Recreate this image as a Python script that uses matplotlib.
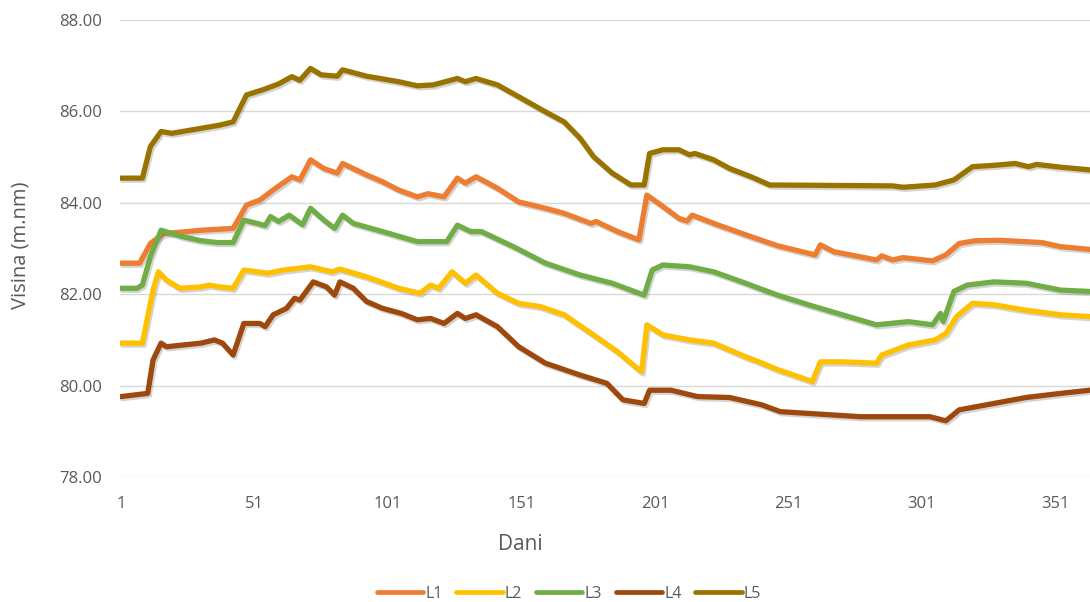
import matplotlib
matplotlib.use('Agg')
import matplotlib.pyplot as plt
import matplotlib.patheffects as pe

plt.rcParams['font.family'] = ['Open Sans', 'DejaVu Sans']

# ---- data (day, level) ----
l1_days = [1, 8, 12, 17, 24, 31, 43, 48, 53, 58, 65, 68, 72, 77, 82, 84, 93, 99, 105, 112,
           116, 122, 127, 130, 134, 142, 150, 160, 167, 177, 179, 187, 195, 198, 204, 210, 213, 215, 223, 235,
           247, 261, 263, 268, 284, 286, 290, 294, 305, 310, 315, 321, 330, 346, 353, 364]
l1_vals = [82.68, 82.68, 83.11, 83.33, 83.36, 83.40, 83.44, 83.95, 84.06, 84.28,
           84.57, 84.50, 84.94, 84.75, 84.65, 84.86, 84.61, 84.46, 84.28, 84.13,
           84.20, 84.13, 84.54, 84.43, 84.57, 84.32, 84.02, 83.88, 83.77, 83.55,
           83.59, 83.37, 83.19, 84.17, 83.92, 83.66, 83.60, 83.73, 83.55, 83.30,
           83.06, 82.86, 83.08, 82.93, 82.75, 82.84, 82.75, 82.80, 82.73, 82.86,
           83.11, 83.17, 83.18, 83.13, 83.04, 82.98]

l2_days = [1, 9, 13, 15, 18, 23, 31, 34, 38, 43, 47, 56, 62, 72, 80, 83, 93, 105, 113, 117,
           120, 125, 130, 134, 142, 150, 158, 167, 177, 187, 196, 198, 204, 214, 223, 235, 240, 247, 260, 263,
           271, 284, 286, 296, 306, 310, 314, 320, 328, 340, 353, 364]
l2_vals = [80.93, 80.93, 82.09, 82.49, 82.31, 82.13, 82.16, 82.20, 82.16, 82.13,
           82.53, 82.46, 82.53, 82.60, 82.49, 82.55, 82.38, 82.13, 82.02, 82.20,
           82.13, 82.49, 82.24, 82.42, 82.02, 81.80, 81.73, 81.55, 81.15, 80.74,
           80.30, 81.33, 81.11, 81.00, 80.93, 80.63, 80.52, 80.35, 80.09, 80.52,
           80.52, 80.49, 80.67, 80.89, 81.00, 81.14, 81.51, 81.80, 81.77, 81.65,
           81.55, 81.51]

l3_days = [1, 7, 9, 12, 16, 24, 31, 37, 43, 47, 52, 55, 57, 60, 64, 69, 72, 77, 81, 84,
           88, 99, 112, 123, 127, 132, 136, 148, 160, 173, 185, 197, 200, 204, 214, 223, 235, 240, 247, 259,
           284, 296, 305, 308, 309, 313, 318, 328, 340, 353, 364]
l3_vals = [82.13, 82.13, 82.20, 82.82, 83.40, 83.26, 83.17, 83.13, 83.13, 83.62,
           83.55, 83.50, 83.70, 83.59, 83.73, 83.52, 83.88, 83.62, 83.44, 83.73,
           83.55, 83.37, 83.15, 83.15, 83.51, 83.37, 83.37, 83.04, 82.68, 82.42,
           82.24, 81.98, 82.53, 82.64, 82.60, 82.49, 82.24, 82.13, 81.98, 81.76,
           81.33, 81.40, 81.33, 81.58, 81.40, 82.06, 82.20, 82.27, 82.24, 82.09,
           82.06]

l4_days = [1, 11, 13, 16, 18, 31, 36, 39, 43, 47, 53, 55, 58, 63, 66, 68, 73, 78, 81, 83,
           88, 93, 99, 106, 112, 117, 122, 127, 130, 134, 142, 150, 160, 173, 183, 189, 197, 199, 207, 217,
           229, 241, 248, 259, 278, 297, 304, 310, 315, 328, 340, 353, 364]
l4_vals = [79.76, 79.83, 80.56, 80.93, 80.85, 80.93, 81.00, 80.93, 80.67, 81.36,
           81.36, 81.29, 81.55, 81.69, 81.91, 81.87, 82.27, 82.16, 81.98, 82.27,
           82.13, 81.84, 81.69, 81.58, 81.44, 81.47, 81.36, 81.58, 81.47, 81.55,
           81.29, 80.85, 80.49, 80.23, 80.05, 79.69, 79.61, 79.90, 79.90, 79.76,
           79.74, 79.58, 79.43, 79.39, 79.32, 79.32, 79.32, 79.23, 79.47, 79.61,
           79.74, 79.83, 79.90]

l5_days = [1, 9, 12, 16, 20, 30, 38, 43, 48, 54, 60, 65, 68, 72, 76, 82, 84, 93, 105, 112,
           118, 127, 130, 134, 142, 150, 160, 167, 173, 178, 185, 192, 197, 199, 204, 210, 214, 216, 223, 229,
           237, 244, 290, 294, 306, 313, 320, 328, 336, 341, 344, 353, 364]
l5_vals = [84.54, 84.54, 85.23, 85.56, 85.52, 85.62, 85.70, 85.77, 86.36, 86.47,
           86.60, 86.76, 86.68, 86.94, 86.80, 86.77, 86.91, 86.77, 86.65, 86.56,
           86.58, 86.72, 86.65, 86.72, 86.58, 86.32, 85.99, 85.77, 85.41, 85.01,
           84.65, 84.39, 84.39, 85.08, 85.16, 85.16, 85.05, 85.08, 84.94, 84.75,
           84.57, 84.39, 84.37, 84.34, 84.39, 84.50, 84.79, 84.82, 84.86, 84.79,
           84.84, 84.78, 84.72]

names = ['L1', 'L2', 'L3', 'L4', 'L5']
colors = ['#ED7D31', '#FFC000', '#70AD47', '#9E480E', '#997300']
x_ticks = [1, 51, 101, 151, 201, 251, 301, 351]
y_ticks = [78, 80, 82, 84, 86, 88]

series = [(l1_days, l1_vals), (l2_days, l2_vals), (l3_days, l3_vals),
          (l4_days, l4_vals), (l5_days, l5_vals)]

fig = plt.figure(figsize=(10.9, 6.02), dpi=100)
ax = fig.add_axes([0.1098, 0.2076, 0.8902, 0.7592])

shadow = [pe.SimpleLineShadow(offset=(1.2, -1.5), alpha=0.25, shadow_color='#555555'), pe.Normal()]
for (d, v), nm, c in zip(series, names, colors):
    ax.plot(d, v, color=c, lw=3.8, label=nm, solid_joinstyle='round',
            solid_capstyle='round', path_effects=shadow)

ax.set_xlim(0.5, 364)
ax.set_ylim(78, 88)
ax.set_xticks(x_ticks)
ax.set_xticklabels([str(t) for t in x_ticks])
ax.set_yticks(y_ticks)
ax.set_yticklabels(['%.2f' % t for t in y_ticks])
ax.grid(axis='y', color='#d9d9d9', lw=1)
ax.set_axisbelow(True)
for s in ax.spines.values():
    s.set_visible(False)
ax.tick_params(length=0, labelsize=12, labelcolor='#595959')
ax.tick_params(axis='y', pad=13)
ax.tick_params(axis='x', pad=14)

fig.text(0.477, 0.095, 'Dani', ha='center', va='center', fontsize=15, color='#595959')
fig.text(0.019, 0.593, 'Visina (m.nm)', ha='center', va='center', rotation=90,
         fontsize=14.5, color='#595959')

leg = fig.legend(loc='center', bbox_to_anchor=(0.522, 0.014), ncol=5, frameon=False,
                 handlelength=2.9, handletextpad=0.15, columnspacing=0.85, fontsize=11.5)
for t in leg.get_texts():
    t.set_color('#595959')
for h in leg.get_lines():
    h.set_path_effects([])
    h.set_linewidth(3.4)

fig.savefig('out.png', dpi=100)
